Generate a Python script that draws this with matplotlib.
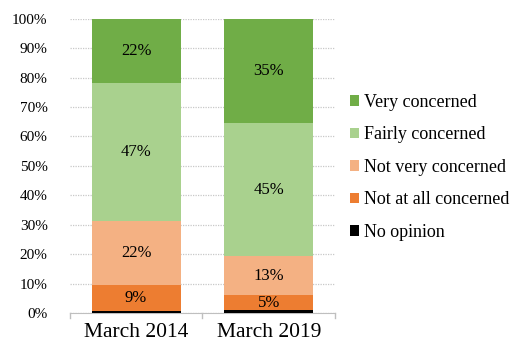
import matplotlib
matplotlib.use("Agg")
import matplotlib.pyplot as plt
from matplotlib.patches import Patch
import numpy as np

plt.rcParams['font.family'] = ['Liberation Serif', 'DejaVu Serif']

categories = ["March 2014", "March 2019"]
series_names = ["No opinion", "Not at all concerned", "Not very concerned",
                "Fairly concerned", "Very concerned"]
no_opinion = [0.5, 1]
not_at_all = [9, 5]
not_very = [22, 13]
fairly = [47, 45]
very = [22, 35]
colors = ["#000000", "#ED7D31", "#F4B183", "#A9D18E", "#70AD47"]
show_label = [False, True, True, True, True]

series = [no_opinion, not_at_all, not_very, fairly, very]
data = np.array(series, dtype=float)
totals = data.sum(axis=0)
frac = data / totals

fig = plt.figure(figsize=(5.21, 3.56), dpi=100)
ax = fig.add_axes([0.134, 0.121, 0.509, 0.826])

x = np.arange(len(categories))
bottom = np.zeros(len(categories))
handles = []
for i, name in enumerate(series_names):
    bars = ax.bar(x, frac[i], 0.67, bottom=bottom, color=colors[i], zorder=3)
    if show_label[i]:
        for j in range(len(categories)):
            ax.text(x[j], bottom[j] + frac[i][j] / 2, f"{series[i][j]:g}%",
                    ha='center', va='center', fontsize=12, color='#000000', zorder=4)
    bottom += frac[i]
    handles.append(Patch(facecolor=colors[i], label=name))

ax.set_xlim(-0.5, len(categories) - 0.5)
ax.set_ylim(0, 1)
ax.set_yticks(np.arange(0, 1.01, 0.1))
ax.set_yticklabels([f"{int(round(v*100))}%" for v in np.arange(0, 1.01, 0.1)], fontsize=11)
ax.set_xticks(x)
ax.set_xticklabels(categories, fontsize=15.5)
ax.yaxis.grid(True, color='#C8C8C8', linestyle=(0, (1, 1)), linewidth=0.9, zorder=0)
for s in ['top', 'right', 'left']:
    ax.spines[s].set_visible(False)
ax.spines['bottom'].set_color('#BFBFBF')
ax.tick_params(axis='y', length=0, pad=16)
ax.tick_params(axis='x', length=0, pad=7)
for xb in [-0.5, 0.5, 1.5]:
    ax.plot([xb, xb], [0, -0.018], color='#BFBFBF', lw=1, clip_on=False, transform=ax.get_xaxis_transform())

fig.legend(handles=handles[::-1], loc='center left', bbox_to_anchor=(0.658, 0.53),
           frameon=False, fontsize=13, handlelength=0.5, handleheight=0.5,
           handletextpad=0.3, labelspacing=0.86, borderaxespad=0)

fig.savefig("out.png", dpi=100)
